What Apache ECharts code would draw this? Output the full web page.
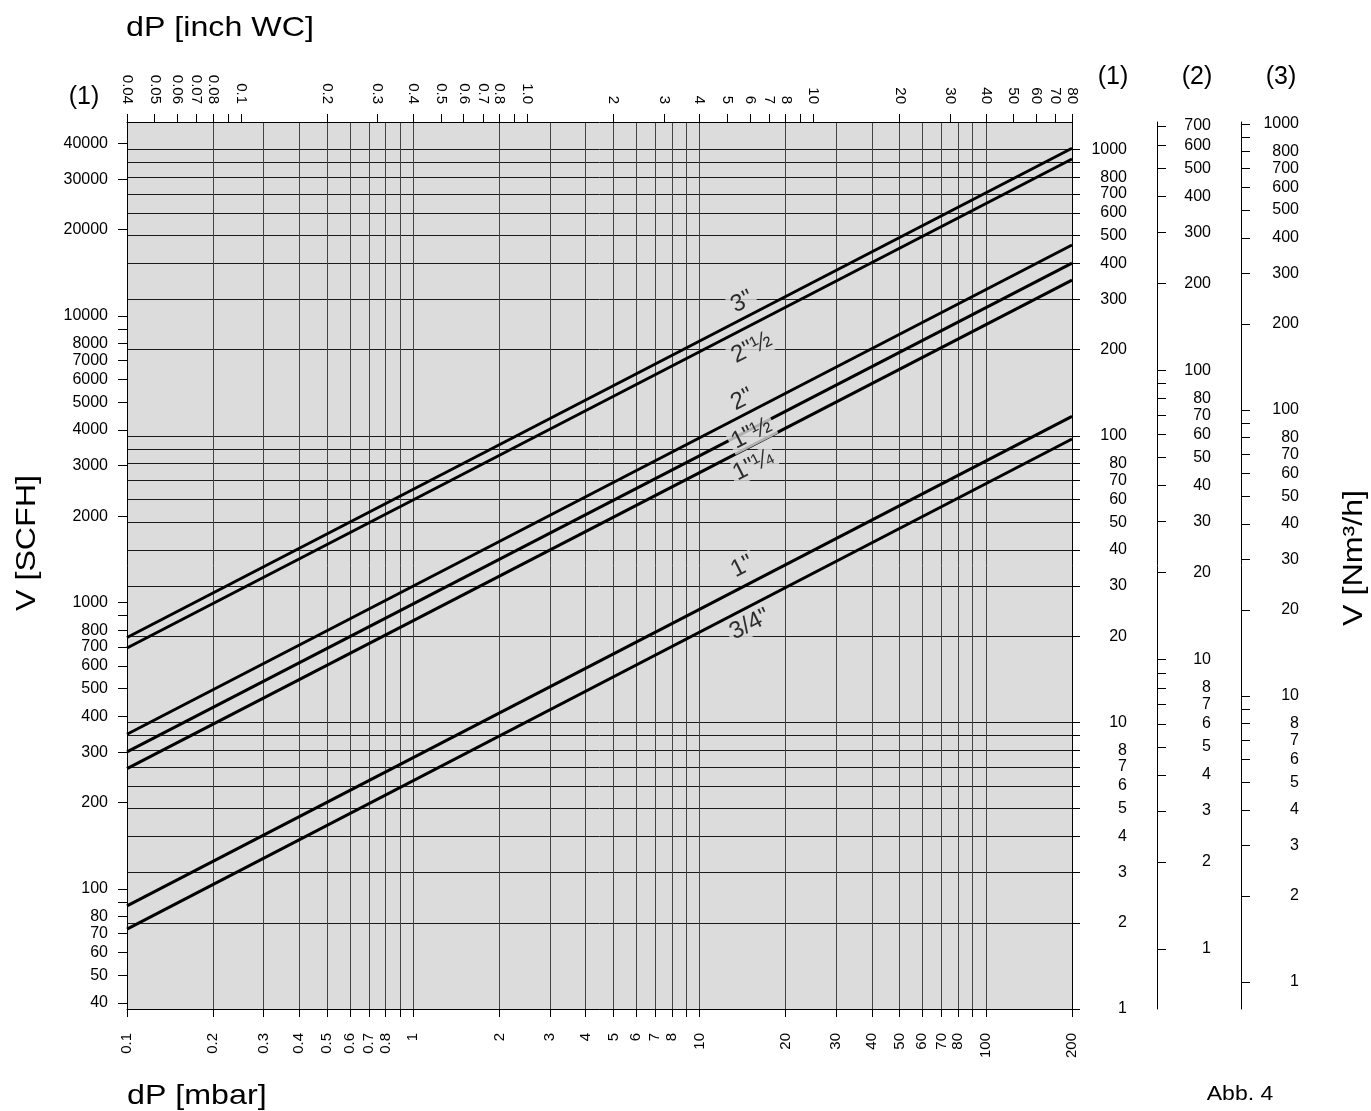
<!DOCTYPE html>
<html>
<head>
<meta charset="utf-8">
<script src="https://cdn.jsdelivr.net/npm/echarts@6/dist/echarts.min.js"></script>
<style>
  html, body { margin: 0; padding: 0; background: #fff; }
  #chart { width: 1371px; height: 1111px; }
</style>
</head>
<body>
<div id="chart"></div>
<script>
// pressure drop in mbar (bottom axis), flow in Nm³/h on scale (1)
const pipeNames = ['3"', '2"½', '2"', '1"½', '1"¼', '1"', '3/4"'];
const dpEnds = [0.1, 200];
const flowAtMin = [19.8, 18.2, 9.1, 7.9, 6.9, 2.29, 1.9];
const flowAtMax = [1010, 926, 464, 401, 350, 117, 97.6];

// where the size labels sit (mbar, Nm³/h)
const labelDp = [14.1, 15.2, 14.1, 15.2, 15.4, 14.1, 15.0];
const labelFlow = [294, 203, 134, 102, 79, 35, 22];

// bottom axis, mbar
const mbarTicks = [0.1, 0.2, 0.3, 0.4, 0.5, 0.6, 0.7, 0.8, 0.9, 1, 2, 3, 4, 5, 6, 7, 8, 9,
  10, 20, 30, 40, 50, 60, 70, 80, 90, 100, 200];
const mbarLabels = [0.1, 0.2, 0.3, 0.4, 0.5, 0.6, 0.7, 0.8, 1, 2, 3, 4, 5, 6, 7, 8,
  10, 20, 30, 40, 50, 60, 70, 80, 100, 200];

// top axis, inch WC
const inchTicks = [0.04, 0.05, 0.06, 0.07, 0.08, 0.09, 0.1, 0.2, 0.3, 0.4, 0.5, 0.6, 0.7, 0.8, 0.9,
  1, 2, 3, 4, 5, 6, 7, 8, 9, 10, 20, 30, 40, 50, 60, 70, 80];
const inchLabels = [0.04, 0.05, 0.06, 0.07, 0.08, 0.1, 0.2, 0.3, 0.4, 0.5, 0.6, 0.7, 0.8,
  1, 2, 3, 4, 5, 6, 7, 8, 10, 20, 30, 40, 50, 60, 70, 80];

// left axis, SCFH
const scfhTicks = [40, 50, 60, 70, 80, 90, 100, 200, 300, 400, 500, 600, 700, 800, 900,
  1000, 2000, 3000, 4000, 5000, 6000, 7000, 8000, 9000, 10000, 20000, 30000, 40000];
const scfhLabels = [40, 50, 60, 70, 80, 100, 200, 300, 400, 500, 600, 700, 800,
  1000, 2000, 3000, 4000, 5000, 6000, 7000, 8000, 10000, 20000, 30000, 40000];

// right axes, Nm³/h
const nm1Ticks = [1, 2, 3, 4, 5, 6, 7, 8, 9, 10, 20, 30, 40, 50, 60, 70, 80, 90,
  100, 200, 300, 400, 500, 600, 700, 800, 900, 1000];
const nm1Labels = [1, 2, 3, 4, 5, 6, 7, 8, 10, 20, 30, 40, 50, 60, 70, 80,
  100, 200, 300, 400, 500, 600, 700, 800, 1000];
const nm2Ticks = [1, 2, 3, 4, 5, 6, 7, 8, 9, 10, 20, 30, 40, 50, 60, 70, 80, 90,
  100, 200, 300, 400, 500, 600, 700];
const nm2Labels = [1, 2, 3, 4, 5, 6, 7, 8, 10, 20, 30, 40, 50, 60, 70, 80,
  100, 200, 300, 400, 500, 600, 700];
const nm3Ticks = nm1Ticks;
const nm3Labels = nm1Labels;

// axis extents
const scale1 = [1, 1247];
const scale2 = [0.62, 723];
const scale3 = [0.805, 1016];
const scfhExtent = [38.1, 47510];

const FONT = 'Liberation Sans, Arial, sans-serif';
const fmt = v => String(parseFloat((+v).toPrecision(4)));

function logAxis(opts) {
  return Object.assign({
    type: 'log',
    logBase: 10,
    axisLine: { show: true, onZero: false, lineStyle: { color: '#000', width: 1 } },
    axisTick: { show: true, inside: false, length: 8, lineStyle: { color: '#000', width: 1 } },
    axisLabel: { color: '#000', fontSize: 15, fontFamily: FONT, formatter: fmt },
    splitLine: { show: false },
    minorTick: { show: false },
    minorSplitLine: { show: false }
  }, opts);
}

const chart = echarts.init(document.getElementById('chart'), null, { renderer: 'canvas' });

const lineSeries = pipeNames.map((name, i) => ({
  name: name,
  type: 'line',
  xAxisIndex: 0,
  yAxisIndex: 1,
  data: [[dpEnds[0], flowAtMin[i]], [dpEnds[1], flowAtMax[i]]],
  symbol: 'none',
  silent: true,
  z: 3,
  lineStyle: { color: '#000', width: 3 }
}));

const labelSeries = {
  type: 'scatter',
  xAxisIndex: 0,
  yAxisIndex: 1,
  symbolSize: 1,
  itemStyle: { color: 'rgba(0,0,0,0)' },
  silent: true,
  z: 5,
  data: pipeNames.map((name, i) => ({ name: name, value: [labelDp[i], labelFlow[i]] })),
  label: {
    show: true,
    position: 'inside',
    formatter: p => p.name,
    rotate: 27,
    fontSize: 24,
    fontFamily: FONT,
    color: '#000',
    textBorderWidth: 0,
    textBorderColor: 'transparent',
    backgroundColor: '#dcdcdc',
    padding: [0, 3]
  }
};

function txt(text, x, y, size, extra) {
  return Object.assign({
    type: 'text',
    x: x,
    y: y,
    silent: true,
    style: {
      text: text,
      font: size + 'px ' + FONT,
      fill: '#000',
      align: 'center',
      verticalAlign: 'middle',
      textAlign: 'center',
      textVerticalAlign: 'middle'
    }
  }, extra || {});
}

chart.setOption({
  animation: false,
  backgroundColor: '#fff',
  grid: {
    left: 127, right: 299, top: 122, bottom: 102,
    show: true, backgroundColor: '#dcdcdc', borderWidth: 0
  },
  xAxis: [
    logAxis({
      position: 'bottom', min: 0.1, max: 200,
      axisTick: { show: true, inside: false, length: 8, customValues: mbarTicks, lineStyle: { color: '#000' } },
      axisLabel: { customValues: mbarLabels, rotate: 90, margin: 24, color: '#000', fontSize: 15, fontFamily: FONT, formatter: fmt },
      splitLine: { show: true, lineStyle: { color: '#444', width: 1 } }
    }),
    logAxis({
      position: 'top', min: 0.04, max: 80,
      axisTick: { show: true, inside: false, length: 8, customValues: inchTicks, lineStyle: { color: '#000' } },
      axisLabel: { customValues: inchLabels, rotate: 90, margin: 18, color: '#000', fontSize: 15, fontFamily: FONT,
        formatter: v => (Math.abs(v - 1) < 1e-9 ? '1.0' : fmt(v)) }
    })
  ],
  yAxis: [
    logAxis({
      position: 'left', min: scfhExtent[0], max: scfhExtent[1],
      axisTick: { show: true, inside: false, length: 9, customValues: scfhTicks, lineStyle: { color: '#000' } },
      axisLabel: { customValues: scfhLabels, margin: 19, color: '#000', fontSize: 16, fontFamily: FONT, formatter: fmt }
    }),
    logAxis({
      position: 'right', min: scale1[0], max: scale1[1],
      axisTick: { show: true, inside: false, length: 8, customValues: nm1Ticks, lineStyle: { color: '#000' } },
      axisLabel: { customValues: nm1Labels, margin: 55, align: 'right', color: '#000', fontSize: 16, fontFamily: FONT, formatter: fmt },
      splitLine: { show: true, lineStyle: { color: '#1a1a1a', width: 1 } }
    }),
    logAxis({
      position: 'right', offset: 85, min: scale2[0], max: scale2[1],
      axisTick: { show: true, inside: false, length: 9, customValues: nm2Ticks, lineStyle: { color: '#000' } },
      axisLabel: { customValues: nm2Labels, margin: 54, align: 'right', color: '#000', fontSize: 16, fontFamily: FONT, formatter: fmt }
    }),
    logAxis({
      position: 'right', offset: 169, min: scale3[0], max: scale3[1],
      axisTick: { show: true, inside: false, length: 9, customValues: nm3Ticks, lineStyle: { color: '#000' } },
      axisLabel: { customValues: nm3Labels, margin: 58, align: 'right', color: '#000', fontSize: 16, fontFamily: FONT, formatter: fmt }
    })
  ],
  series: lineSeries.concat([labelSeries]),
  graphic: [
    txt('dP [inch WC]', 126, 28, 28, { scaleX: 1.15, style: { text: 'dP [inch WC]', font: '28px ' + FONT, fill: '#000', align: 'left', verticalAlign: 'middle', textAlign: 'left', textVerticalAlign: 'middle' } }),
    txt('dP [mbar]', 127, 1096, 28, { scaleX: 1.15, style: { text: 'dP [mbar]', font: '28px ' + FONT, fill: '#000', align: 'left', verticalAlign: 'middle', textAlign: 'left', textVerticalAlign: 'middle' } }),
    txt('V [SCFH]', 27, 543, 28, { rotation: Math.PI / 2, scaleX: 1.15 }),
    txt('V [Nm³/h]', 1354, 558, 28, { rotation: Math.PI / 2, scaleX: 1.15 }),
    txt('(1)', 84, 97, 25),
    txt('(1)', 1113, 77, 25),
    txt('(2)', 1197, 77, 25),
    txt('(3)', 1281, 77, 25),
    txt('Abb. 4', 1240, 1094, 20, { scaleX: 1.15 })
  ]
});
</script>
</body>
</html>
